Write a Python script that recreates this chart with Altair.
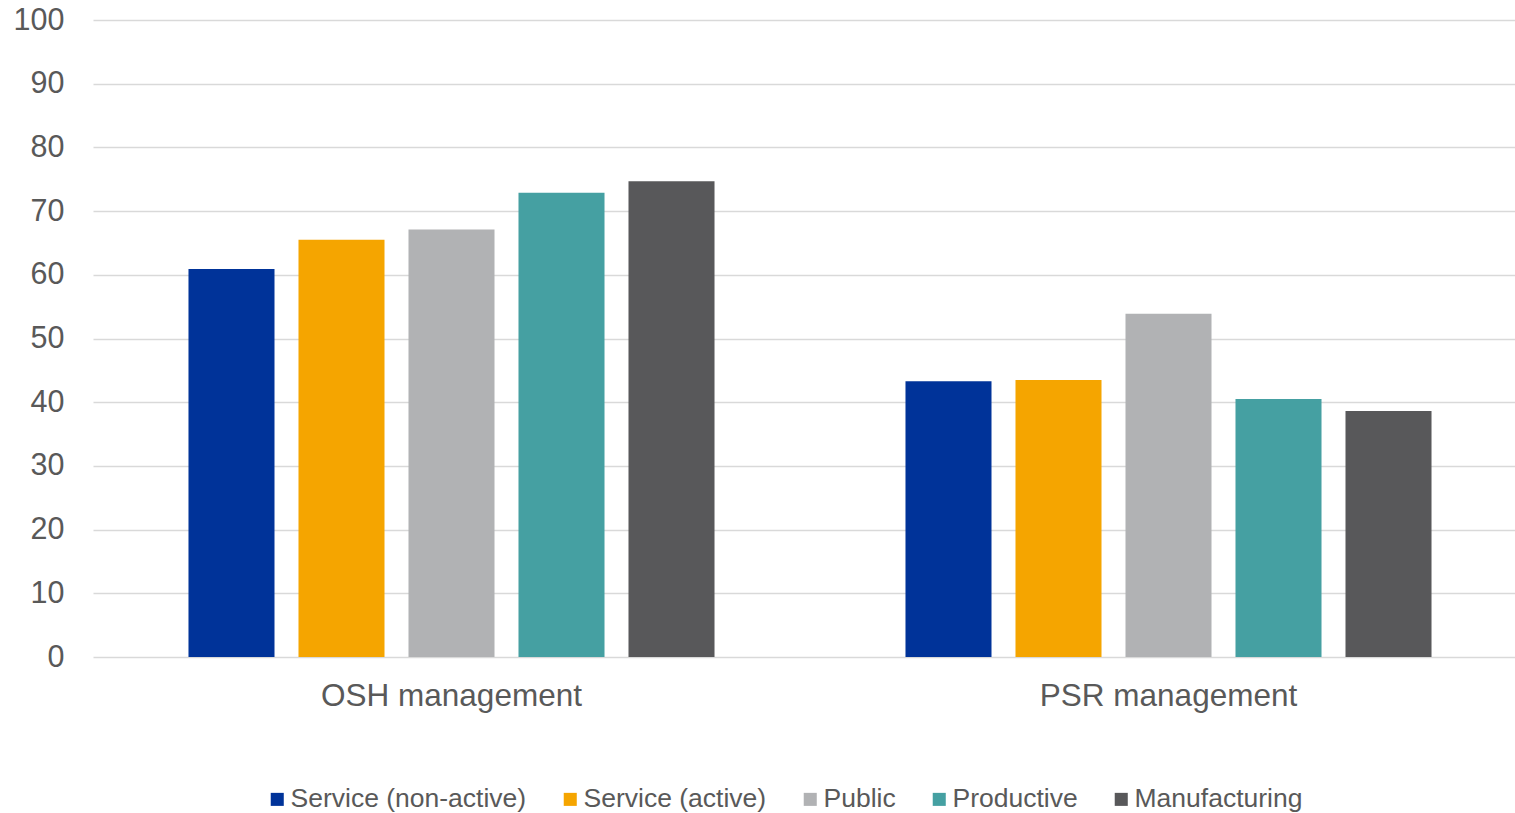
import altair as alt
import pandas as pd

categories = ["OSH management", "PSR management"]
series = ["Service (non-active)", "Service (active)", "Public", "Productive", "Manufacturing"]
osh_values = [60.9, 65.5, 67.1, 72.9, 74.7]
psr_values = [43.3, 43.5, 53.9, 40.5, 38.6]
colors = ["#003399", "#F5A500", "#B1B2B4", "#45A0A2", "#58585A"]

rows = []
for s, v in zip(series, osh_values):
    rows.append({"category": categories[0], "series": s, "value": v})
for s, v in zip(series, psr_values):
    rows.append({"category": categories[1], "series": s, "value": v})
df = pd.DataFrame(rows)

text_color = "#595959"
font = "Liberation Sans"

chart = alt.Chart(df).mark_bar().encode(
    x=alt.X("category:N", sort=categories, title=None,
            scale=alt.Scale(range=[1, 1435], paddingInner=0, paddingOuter=0),
            axis=alt.Axis(labelAngle=0, labelFontSize=31.5, labelColor=text_color,
                          labelFont=font, domain=False, ticks=False, grid=False,
                          labelPadding=23, labelLimit=0)),
    xOffset=alt.XOffset("series:N", sort=series,
                        scale=alt.Scale(paddingInner=0.218, paddingOuter=0.868)),
    y=alt.Y("value:Q", title=None,
            scale=alt.Scale(domain=[0, 100], nice=False),
            axis=alt.Axis(values=list(range(0, 101, 10)), labelFontSize=30.5,
                          labelColor=text_color, labelFont=font, domain=False,
                          ticks=False, labelPadding=28, gridColor="#D9D9D9",
                          gridWidth=1.5)),
    color=alt.Color("series:N", sort=series,
                    scale=alt.Scale(domain=series, range=colors),
                    legend=alt.Legend(title=None, orient="none", direction="horizontal",
                                      legendX=172, legendY=766,
                                      symbolType="square", symbolSize=170,
                                      symbolStrokeWidth=0, labelFontSize=26.5,
                                      labelColor=text_color, labelFont=font,
                                      columnPadding=30, symbolOffset=0,
                                      labelOffset=0, labelLimit=0, columns=5)),
).properties(
    width=1422,
    height=637,
    autosize=alt.AutoSizeParams(type="none"),
    padding={"left": 92, "top": 20, "right": 1, "bottom": 156},
).configure(font=font, view=alt.ViewConfig(stroke=None))

chart.save("out.html", embed_options={"renderer": "svg", "actions": False})
